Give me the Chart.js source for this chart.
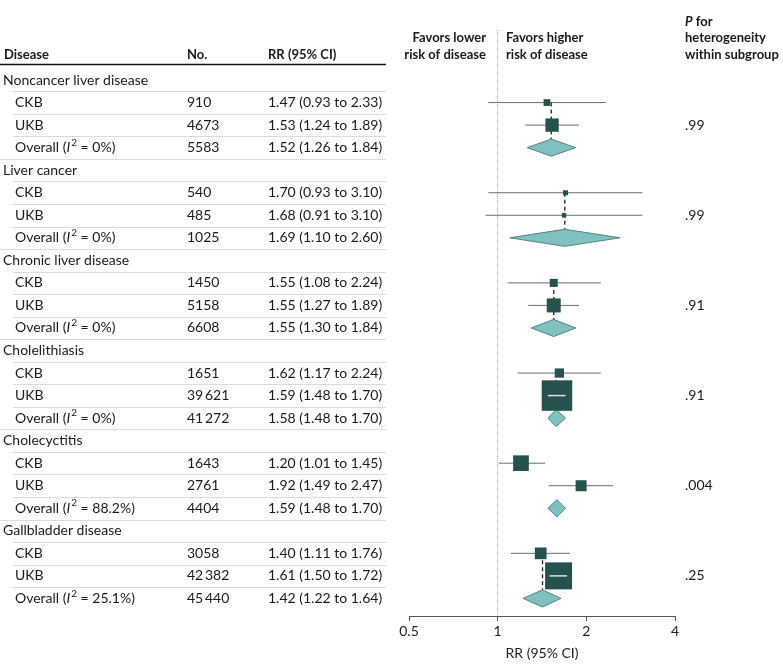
<!DOCTYPE html>
<html>
<head>
<meta charset="utf-8">
<script src="https://cdn.jsdelivr.net/npm/chart.js@4.4.1/dist/chart.umd.min.js"></script>
<style>
  html, body { margin: 0; padding: 0; background: #fff; }
</style>
</head>
<body>
<canvas id="forest" width="783" height="672"></canvas>
<script>
// disease subgroups, each with CKB, UKB and the pooled estimate
const groups = ['Noncancer liver disease', 'Liver cancer', 'Chronic liver disease', 'Cholelithiasis', 'Cholecyctitis', 'Gallbladder disease'];
const cohorts = ['CKB', 'UKB'];
const cases = [[910, 4673, 5583], [540, 485, 1025], [1450, 5158, 6608], [1651, 39621, 41272], [1643, 2761, 4404], [3058, 42382, 45440]];
const rr = [[1.47, 1.53, 1.52], [1.70, 1.68, 1.69], [1.55, 1.55, 1.55], [1.62, 1.59, 1.58], [1.20, 1.92, 1.59], [1.40, 1.61, 1.42]];
const lower = [[0.93, 1.24, 1.26], [0.93, 0.91, 1.10], [1.08, 1.27, 1.30], [1.17, 1.48, 1.48], [1.01, 1.49, 1.48], [1.11, 1.50, 1.22]];
const upper = [[2.33, 1.89, 1.84], [3.10, 3.10, 2.60], [2.24, 1.89, 1.84], [2.24, 1.70, 1.70], [1.45, 2.47, 1.70], [1.76, 1.72, 1.64]];
const i2 = ['0%', '0%', '0%', '0%', '88.2%', '25.1%'];
const pHet = ['.99', '.99', '.91', '.91', '.004', '.25'];
// relative study weights (box area)
const weights = [[45, 177], [25, 20], [64, 196], [86, 930], [246, 121], [137, 729]];
const xTicks = [0.5, 1, 2, 4];

const FONT = 'Lato';
const SQUARE = '#25524f';
const DIAMOND_FILL = '#80c1bf';
const DIAMOND_LINE = '#4f8583';
const CI_LINE = '#6e6e6e';
const DIAMOND_H = 0.38; // half height of pooled diamond, in rows

const rowOf = (g, k) => g * 4 + 1 + k; // k: 0 CKB, 1 UKB, 2 overall
const fmtN = n => n >= 10000 ? String(n).replace(/(\d)(?=(\d{3})$)/, '$1\u2009') : String(n);
const fmtRR = (g, k) => `${rr[g][k].toFixed(2)} (${lower[g][k].toFixed(2)} to ${upper[g][k].toFixed(2)})`;

const datasets = [];

// reference line at RR = 1
datasets.push({
  data: [{ x: 1, y: -2.22 }, { x: 1, y: 23.78 }],
  showLine: true, pointRadius: 0, borderColor: '#9a9a9a', borderWidth: 1,
  borderDash: [1, 1], order: 7
});

groups.forEach((name, g) => {
  cohorts.forEach((c, k) => {
    const row = rowOf(g, k);
    // CI line behind the box
    datasets.push({
      data: [{ x: lower[g][k], y: row }, { x: upper[g][k], y: row }],
      showLine: true, pointRadius: 0, borderColor: CI_LINE, borderWidth: 1, order: 6
    });
    // white CI inside large boxes
    const side = Math.sqrt(weights[g][k]);
    datasets.push({
      data: [{ x: lower[g][k], y: row }, { x: upper[g][k], y: row }],
      showLine: true, pointRadius: 0, borderWidth: 1.5, borderColor: 'rgba(0,0,0,0)',
      segment: {
        borderColor: ctx => {
          const cx = ctx.chart.scales.x.getPixelForValue(rr[g][k]);
          return (ctx.p0.x >= cx - side / 2 && ctx.p1.x <= cx + side / 2) ? '#d8e2e1' : 'rgba(0,0,0,0)';
        }
      },
      order: 1
    });
  });

  // dashed line linking the studies to the pooled estimate
  if (parseFloat(pHet[g]) >= 0.05) {
    datasets.push({
      data: [{ x: rr[g][2], y: rowOf(g, 0) }, { x: rr[g][2], y: rowOf(g, 2) - DIAMOND_H }],
      showLine: true, pointRadius: 0, borderColor: '#222', borderWidth: 1.3,
      borderDash: [4, 3], order: 5
    });
  }

  // pooled diamond
  const row = rowOf(g, 2);
  datasets.push({
    data: [
      { x: lower[g][2], y: row }, { x: rr[g][2], y: row - DIAMOND_H },
      { x: upper[g][2], y: row }, { x: rr[g][2], y: row + DIAMOND_H },
      { x: lower[g][2], y: row }
    ],
    showLine: true, pointRadius: 0, tension: 0, fill: 'shape',
    backgroundColor: DIAMOND_FILL, borderColor: DIAMOND_LINE, borderWidth: 1, order: 4
  });
});

// study boxes
const boxPoints = [];
const boxSides = [];
groups.forEach((name, g) => cohorts.forEach((c, k) => {
  boxPoints.push({ x: rr[g][k], y: rowOf(g, k) });
  boxSides.push(Math.sqrt(weights[g][k]));
}));
datasets.push({
  data: boxPoints,
  pointStyle: 'rect',
  pointRadius: ctx => boxSides[ctx.dataIndex] / Math.SQRT2,
  backgroundColor: SQUARE, borderWidth: 0, order: 2
});

function drawI2(ctx, x, y, val) {
  ctx.font = `14px ${FONT}`;
  ctx.fillText('Overall (', x, y);
  x += ctx.measureText('Overall (').width;
  ctx.font = `italic 14px ${FONT}`;
  ctx.fillText('I', x, y);
  x += ctx.measureText('I').width + 1;
  ctx.font = `10px ${FONT}`;
  ctx.fillText('2', x, y - 5);
  x += ctx.measureText('2').width;
  ctx.font = `14px ${FONT}`;
  ctx.fillText(` = ${val})`, x, y);
}

const tablePlugin = {
  id: 'table',
  afterDraw(chart) {
    const { ctx, scales: { y } } = chart;
    ctx.save();
    ctx.fillStyle = '#1a1a1a';
    ctx.textBaseline = 'middle';
    ctx.textAlign = 'left';

    // column headers
    ctx.font = `bold 13px ${FONT}`;
    ctx.fillText('Disease', 4, 55);
    ctx.fillText('No.', 187, 55);
    ctx.fillText('RR (95% CI)', 268, 55);
    ctx.textAlign = 'right';
    ctx.fillText('Favors lower', 486, 38);
    ctx.fillText('risk of disease', 486, 55);
    ctx.textAlign = 'left';
    ctx.fillText('Favors higher', 506, 38);
    ctx.fillText('risk of disease', 506, 55);
    ctx.font = `italic bold 13px ${FONT}`;
    ctx.fillText('P', 685, 22);
    const pw = ctx.measureText('P').width;
    ctx.font = `bold 13px ${FONT}`;
    ctx.fillText(' for', 685 + pw, 22);
    ctx.fillText('heterogeneity', 685, 38);
    ctx.fillText('within subgroup', 685, 55);

    ctx.strokeStyle = '#111';
    ctx.lineWidth = 1.5;
    ctx.beginPath();
    ctx.moveTo(0, 64.5);
    ctx.lineTo(386, 64.5);
    ctx.stroke();

    // row separators
    ctx.strokeStyle = '#dcdcd4';
    ctx.lineWidth = 1;
    for (let r = 0; r < groups.length * 4 - 1; r++) {
      const yy = Math.round(y.getPixelForValue(r + 0.5)) + 0.5;
      ctx.beginPath();
      ctx.moveTo(r % 4 === 3 ? 0 : 13, yy);
      ctx.lineTo(386, yy);
      ctx.stroke();
    }

    groups.forEach((name, g) => {
      ctx.font = `14px ${FONT}`;
      ctx.fillText(name, 3, y.getPixelForValue(g * 4));
      for (let k = 0; k < 3; k++) {
        const yy = y.getPixelForValue(rowOf(g, k));
        if (k < 2) {
          ctx.font = `14px ${FONT}`;
          ctx.fillText(cohorts[k], 15, yy);
        } else {
          drawI2(ctx, 15, yy, i2[g]);
        }
        ctx.font = `14px ${FONT}`;
        ctx.fillText(fmtN(cases[g][k]), 187, yy);
        ctx.fillText(fmtRR(g, k), 268, yy);
      }
      ctx.fillText(pHet[g], 685, y.getPixelForValue(rowOf(g, 1)));
    });
    ctx.restore();
  }
};

new Chart(document.getElementById('forest'), {
  type: 'scatter',
  data: { datasets },
  options: {
    responsive: false,
    animation: false,
    events: [],
    devicePixelRatio: 1,
    layout: { padding: { left: 409, right: 108, top: 30, bottom: 0 } },
    plugins: { legend: { display: false }, tooltip: { enabled: false } },
    scales: {
      x: {
        type: 'logarithmic',
        min: 0.5,
        max: 4,
        afterBuildTicks: scale => { scale.ticks = xTicks.map(v => ({ value: v })); },
        afterFit: scale => { scale.height = 56; },
        ticks: {
          autoSkip: false, maxRotation: 0, padding: 2, color: '#222',
          font: { family: FONT, size: 14 },
          callback: v => String(v)
        },
        grid: { drawOnChartArea: false, drawTicks: true, tickLength: 5, color: '#555' },
        border: { color: '#555', width: 1 },
        title: {
          display: true, text: 'RR (95% CI)', color: '#222',
          font: { family: FONT, size: 14 }, padding: { top: 4, bottom: 10 }
        }
      },
      y: {
        type: 'linear', reverse: true, min: -2.22, max: 23.78, display: false
      }
    }
  },
  plugins: [tablePlugin]
});
</script>
</body>
</html>
